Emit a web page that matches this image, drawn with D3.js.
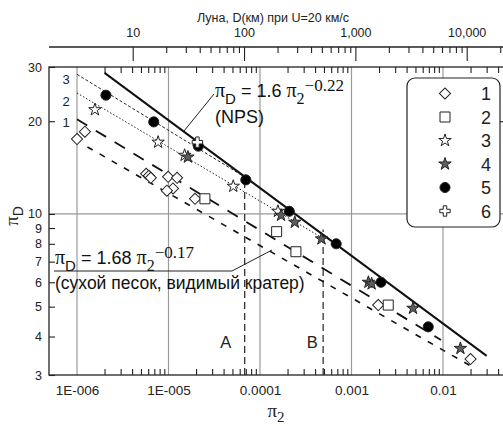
<!DOCTYPE html>
<html>
<head>
<meta charset="utf-8">
<script src="https://cdn.jsdelivr.net/npm/d3@7"></script>
<style>
  body { margin: 0; background: #fff; }
  svg { display: block; }
</style>
</head>
<body>
<div id="chart"></div>
<script>
// tick labels
const xMajor = [1e-6, 1e-5, 1e-4, 1e-3, 1e-2]
const xLabels = ["1E-006", "1E-005", "0.0001", "0.001", "0.01"]
const yTicks = [3, 4, 5, 6, 7, 8, 9, 10, 20, 30]
const topMajor = [10, 100, 1000, 10000]
const topLabels = ["10", "100", "1,000", "10,000"]

// measured points [pi2, piD] for each series 1..6
const s1 = [[1.0e-6, 17.5], [1.22e-6, 18.5], [5.7e-6, 13.5], [6.1e-6, 13.3], [6.4e-6, 13.1],
            [9.9e-6, 13.2], [1.24e-5, 13.1], [1.12e-5, 12.1], [9.6e-6, 11.9], [1.95e-5, 11.2],
            [1.96e-3, 5.06], [2.0e-2, 3.38]]
const s2 = [[2.5e-5, 11.2], [1.52e-4, 8.76], [2.47e-4, 7.54], [2.52e-3, 5.06]]
const s3 = [[1.57e-6, 21.8], [7.7e-6, 17.1], [1.5e-5, 15.5], [5.1e-5, 12.3], [1.57e-4, 10.2]]
const s4 = [[1.63e-5, 15.3], [1.7e-4, 9.9], [2.4e-4, 9.4], [4.7e-4, 8.3], [1.53e-3, 6.0],
            [1.66e-3, 5.93], [4.7e-3, 4.94], [1.55e-2, 3.66]]
const s5 = [[2.07e-6, 24.3], [6.9e-6, 19.9], [2.12e-5, 16.6], [7.0e-5, 12.9], [2.09e-4, 10.2],
            [6.8e-4, 8.0], [2.1e-3, 6.0], [6.9e-3, 4.3]]
const s6 = [[2.07e-5, 17.1]]

// fit lines (end points)
const lineNPS = [[2e-6, 28.7], [0.03, 3.46]]
const lineSand = [[1.3e-6, 16.5], [0.022, 3.16]]
const line1 = [[1e-6, 20.3], [0.0095, 3.9]]
const line2 = [[1e-6, 24.7], [5e-4, 8.3]]
const line3 = [[1e-6, 28.4], [8e-5, 12.8]]
const lineA = [[6.8e-5, 3], [6.8e-5, 12.6]]
const lineB = [[4.9e-4, 3], [4.9e-4, 8.9]]

const sans = "'Liberation Sans', Arial, sans-serif"
const serif = "'Liberation Serif', 'Times New Roman', serif"

const width = 503, height = 426
const plot = {left: 49, right: 505, top: 67, bottom: 375}

const svg = d3.select("#chart").append("svg")
  .attr("width", width)
  .attr("height", height)

// scales: decades pinned where the picture has them
const x = d3.scaleLog().domain([1e-6, 1e-2]).range([77, 443])
x.domain([x.invert(plot.left), x.invert(plot.right)]).range([plot.left, plot.right])
const y = d3.scaleLog().domain([3, 30]).range([plot.bottom, plot.top])
const xTop = d3.scaleLog().domain([10, 10000]).range([132.7, 466.7])
xTop.domain([xTop.invert(plot.left), xTop.invert(plot.right)]).range([plot.left, plot.right])

const minors = (scale, from, to) => {
  const out = []
  for (let p = from; p <= to; p++)
    for (let k = 2; k <= 9; k++) {
      const v = k * Math.pow(10, p)
      if (v > scale.domain()[0] && v < scale.domain()[1]) out.push(v)
    }
  return out
}
const xMinor = minors(x, -6, -2)
const topMinor = minors(xTop, 1, 4)

// grid
svg.append("g")
  .selectAll("line.v")
  .data(xMajor)
  .join("line")
  .attr("x1", d => x(d)).attr("x2", d => x(d))
  .attr("y1", plot.top).attr("y2", plot.bottom)
  .attr("stroke", "#9a9a9a").attr("stroke-width", 1.2)
svg.append("line")
  .attr("x1", plot.left).attr("x2", plot.right)
  .attr("y1", y(10)).attr("y2", y(10))
  .attr("stroke", "#9a9a9a").attr("stroke-width", 1.2)

// frame
svg.append("rect")
  .attr("x", plot.left).attr("y", plot.top)
  .attr("width", plot.right - plot.left).attr("height", plot.bottom - plot.top)
  .attr("fill", "none").attr("stroke", "#222").attr("stroke-width", 1.3)

// bottom axis: labels + inward minor ticks
const xAxis = svg.append("g")
  .attr("transform", `translate(0,${plot.bottom})`)
  .call(d3.axisBottom(x).tickValues(xMajor).tickFormat((d, i) => xLabels[i]).tickSize(0).tickPadding(10.5))
xAxis.select(".domain").remove()
xAxis.selectAll("text").attr("font-family", sans).attr("font-size", 13.5).attr("fill", "#222")

svg.append("g")
  .attr("transform", `translate(0,${plot.bottom})`)
  .call(d3.axisTop(x).tickValues(xMinor).tickFormat("").tickSize(6))
  .call(g => g.select(".domain").remove())
  .selectAll("line").attr("stroke", "#222").attr("stroke-width", 1.1)

// top frame: inward minor ticks
svg.append("g")
  .attr("transform", `translate(0,${plot.top})`)
  .call(d3.axisBottom(x).tickValues(xMinor).tickFormat("").tickSize(6))
  .call(g => g.select(".domain").remove())
  .selectAll("line").attr("stroke", "#222").attr("stroke-width", 1.1)

// left axis
const yAxis = svg.append("g")
  .attr("transform", `translate(${plot.left},0)`)
  .call(d3.axisLeft(y).tickValues(yTicks).tickFormat(d3.format("d")).tickSize(-6).tickPadding(7))
yAxis.select(".domain").remove()
yAxis.selectAll("line").attr("stroke", "#222").attr("stroke-width", 1.1)
yAxis.selectAll("text").attr("font-family", sans).attr("font-size", 12.5).attr("fill", "#222")

// right axis tick
svg.append("g")
  .attr("transform", `translate(${plot.right},0)`)
  .call(d3.axisRight(y).tickValues([20]).tickFormat("").tickSize(-6))
  .call(g => g.select(".domain").remove())
  .selectAll("line").attr("stroke", "#222").attr("stroke-width", 1.1)

// top secondary axis (Moon crater diameter)
const topY = 47
svg.append("line")
  .attr("x1", plot.left).attr("x2", plot.right)
  .attr("y1", topY).attr("y2", topY)
  .attr("stroke", "#222").attr("stroke-width", 1.3)
svg.append("g")
  .attr("transform", `translate(0,${topY})`)
  .call(d3.axisBottom(xTop).tickValues(topMajor).tickFormat("").tickSize(14))
  .call(g => g.select(".domain").remove())
  .selectAll("line").attr("stroke", "#222").attr("stroke-width", 1.1)
svg.append("g")
  .attr("transform", `translate(0,${topY})`)
  .call(d3.axisBottom(xTop).tickValues(topMinor).tickFormat("").tickSize(6))
  .call(g => g.select(".domain").remove())
  .selectAll("line").attr("stroke", "#222").attr("stroke-width", 1.1)
const topAxis = svg.append("g")
  .attr("transform", `translate(0,${topY})`)
  .call(d3.axisTop(xTop).tickValues(topMajor).tickFormat((d, i) => topLabels[i]).tickSize(0).tickPadding(10.5))
topAxis.select(".domain").remove()
topAxis.selectAll("text").attr("font-family", sans).attr("font-size", 12.5).attr("fill", "#222")

svg.append("text")
  .attr("x", 273).attr("y", 21.5)
  .attr("text-anchor", "middle")
  .attr("font-family", sans).attr("font-size", 12.5).attr("fill", "#222")
  .text("Луна, D(км) при U=20 км/с")

// axis titles
svg.append("text")
  .attr("x", 276).attr("y", 417)
  .attr("text-anchor", "middle")
  .attr("font-family", serif).attr("font-size", 19).attr("fill", "#222")
  .call(t => {
    t.append("tspan").text("π")
    t.append("tspan").attr("font-size", 15).attr("dy", 5).text("2")
  })
svg.append("text")
  .attr("transform", "translate(18,216) rotate(-90)")
  .attr("text-anchor", "middle")
  .attr("font-family", serif).attr("font-size", 19).attr("fill", "#222")
  .call(t => {
    t.append("tspan").text("π")
    t.append("tspan").attr("font-family", sans).attr("font-size", 14).attr("dy", 5).text("D")
  })

// lines
const line = d3.line().x(d => x(d[0])).y(d => y(d[1]))
const drawLine = (data, w, dash, color) => svg.append("path")
  .datum(data)
  .attr("d", line)
  .attr("fill", "none")
  .attr("stroke", color || "#111")
  .attr("stroke-width", w)
  .attr("stroke-dasharray", dash)

drawLine(lineA, 1.3, "7 4", "#333")
drawLine(lineB, 1.3, "7 4", "#333")
drawLine(line3, 1, "3 2", "#222")
drawLine(line2, 1, "1.5 2", "#222")
drawLine(line1, 1.8, "12 10")
drawLine(lineSand, 1.6, "6 8")
drawLine(lineNPS, 2, null)

// markers
const sym = (type, size) => d3.symbol().type(type).size(size)()
const markers = [
  {data: s1, path: sym(d3.symbolSquare, 62), rot: 45, fill: "#fff"},
  {data: s2, path: sym(d3.symbolSquare, 100), rot: 0, fill: "#fff"},
  {data: s3, path: sym(d3.symbolStar, 48), rot: 0, fill: "#fff"},
  {data: s4, path: sym(d3.symbolStar, 48), rot: 0, fill: "#5e5e5e"},
  {data: s5, path: sym(d3.symbolCircle, 80), rot: 0, fill: "#000"},
  {data: s6, path: sym(d3.symbolCross, 60), rot: 0, fill: "#fff"}
]
markers.forEach(m => {
  svg.append("g")
    .selectAll("path")
    .data(m.data)
    .join("path")
    .attr("d", m.path)
    .attr("transform", d => `translate(${x(d[0])},${y(d[1])}) rotate(${m.rot})`)
    .attr("fill", m.fill)
    .attr("stroke", "#222")
    .attr("stroke-width", 1)
})

// line labels 3, 2, 1 at the left end of their lines
const lineNames = ["3", "2", "1"]
const lineNameY = [84, 105.5, 126.5]
svg.append("g")
  .selectAll("text")
  .data(lineNames)
  .join("text")
  .attr("x", 66).attr("y", (d, i) => lineNameY[i])
  .attr("text-anchor", "middle")
  .attr("font-family", sans).attr("font-size", 13).attr("fill", "#222")
  .text(d => d)

// A / B marks
svg.append("text").attr("x", x(lineA[0][0]) - 19).attr("y", 348)
  .attr("text-anchor", "middle").attr("font-family", sans).attr("font-size", 16.5).attr("fill", "#222").text("A")
svg.append("text").attr("x", x(lineB[0][0]) - 11).attr("y", 348)
  .attr("text-anchor", "middle").attr("font-family", sans).attr("font-size", 16.5).attr("fill", "#222").text("B")

// formulas
function formula(px, py, coef, expo) {
  const t = svg.append("text").attr("x", px).attr("y", py)
    .attr("font-size", 18).attr("fill", "#111")
  t.append("tspan").attr("font-family", serif).attr("font-size", 20).text("π")
  t.append("tspan").attr("font-family", sans).attr("font-size", 15).attr("dy", 7).text("D")
  t.append("tspan").attr("font-family", sans).attr("dy", -7).text(` = ${coef} `)
  t.append("tspan").attr("font-family", serif).attr("font-size", 20).text("π")
  t.append("tspan").attr("font-family", serif).attr("font-size", 16).attr("dy", 7).text("2")
  t.append("tspan").attr("font-family", serif).attr("font-size", 17).attr("dy", -13).text(expo)
}
formula(215, 97, "1.6", "−0.22")
svg.append("text").attr("x", 215).attr("y", 123)
  .attr("font-family", sans).attr("font-size", 18).attr("fill", "#111").text("(NPS)")
svg.append("line").attr("x1", 214).attr("y1", 94).attr("x2", 184).attr("y2", 131)
  .attr("stroke", "#222").attr("stroke-width", 1)

formula(55, 264, "1.68", "−0.17")
svg.append("polyline")
  .attr("points", "54,271 232,271 272,250")
  .attr("fill", "none").attr("stroke", "#222").attr("stroke-width", 1)
svg.append("text").attr("x", 55).attr("y", 289)
  .attr("font-family", sans).attr("font-size", 17.5).attr("fill", "#111")
  .text("(сухой песок, видимый кратер)")

// legend
const legend = svg.append("g")
legend.append("rect")
  .attr("x", 407).attr("y", 78).attr("width", 93).attr("height", 149).attr("rx", 8)
  .attr("fill", "#fff").attr("stroke", "#222").attr("stroke-width", 1.2)
const legendNames = ["1", "2", "3", "4", "5", "6"]
markers.forEach((m, i) => {
  const cy = 93.5 + i * 23.5
  legend.append("path")
    .attr("d", m.path)
    .attr("transform", `translate(445,${cy}) rotate(${m.rot})`)
    .attr("fill", m.fill).attr("stroke", "#222").attr("stroke-width", 1)
  legend.append("text")
    .attr("x", 486).attr("y", cy + 6.5)
    .attr("text-anchor", "middle")
    .attr("font-family", sans).attr("font-size", 18).attr("fill", "#222")
    .text(legendNames[i])
})
</script>
</body>
</html>
